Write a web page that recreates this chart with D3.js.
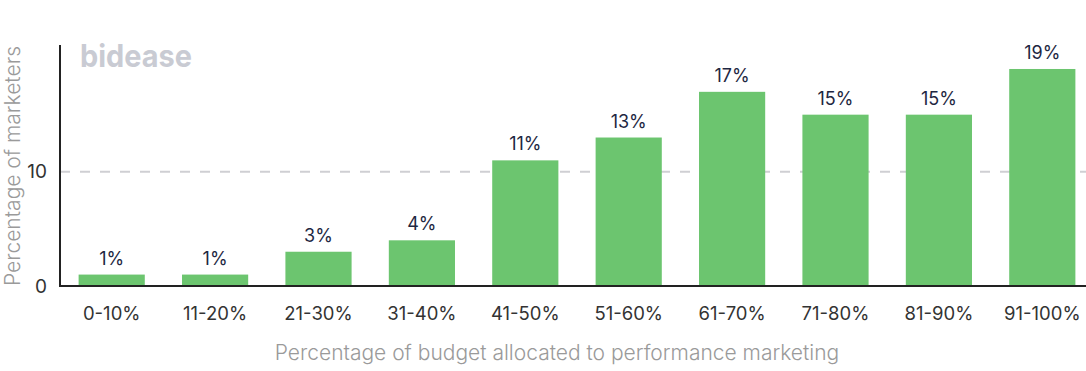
<!DOCTYPE html>
<html><head><meta charset="utf-8">
<script src="https://cdn.jsdelivr.net/npm/d3@7"></script>
<style>
html,body{margin:0;padding:0;background:#fff;}
svg{display:block;font-family:Inter, "Noto Sans", sans-serif;}
</style></head>
<body>
<svg id="chart" width="1086" height="371"></svg>
<script>
const categories = ["0-10%","11-20%","21-30%","31-40%","41-50%","51-60%","61-70%","71-80%","81-90%","91-100%"];
const values = [1,1,3,4,11,13,17,15,15,19];
const yTicks = [0,10];
const xTitle = "Percentage of budget allocated to performance marketing";
const yTitle = "Percentage of marketers";

const svg = d3.select("#chart");
const x = d3.scaleBand().domain(categories).range([60,1094]).paddingInner(0.36).paddingOuter(0.18);
const y = d3.scaleLinear().domain([0,21.1]).range([286,45]);

// gridline
svg.append("g").selectAll("line").data(yTicks.filter(d=>d>0)).join("line")
  .attr("x1",60).attr("x2",1086).attr("y1",d=>y(d)).attr("y2",d=>y(d))
  .attr("stroke","#cfcfd3").attr("stroke-width",2).attr("stroke-dasharray","10,10");

// logo
svg.append("text").attr("x",80).attr("y",67).text("bidease")
  .attr("font-size",31).attr("font-weight",700).attr("fill","#c9cbd3")
  .attr("textLength",112).attr("lengthAdjust","spacingAndGlyphs");

// bars
svg.append("g").selectAll("rect").data(values).join("rect")
  .attr("x",(d,i)=>x(categories[i])).attr("width",x.bandwidth())
  .attr("y",d=>y(d)).attr("height",d=>y(0)-y(d)).attr("fill","#6cc56f");

// value labels
svg.append("g").selectAll("text").data(values).join("text")
  .attr("x",(d,i)=>x(categories[i])+x.bandwidth()/2).attr("y",d=>y(d)-10)
  .attr("text-anchor","middle").attr("font-size",18).attr("fill","#1e2742").text(d=>d+"%");

// axes
const yAxis = svg.append("g").attr("transform","translate(60,0)")
  .call(d3.axisLeft(y).tickValues(yTicks).tickSize(0).tickPadding(13));
yAxis.select(".domain").remove();
yAxis.selectAll("text").attr("font-size",19).attr("fill","#333").attr("font-family","Inter, sans-serif");
svg.append("line").attr("x1",60).attr("x2",60).attr("y1",45).attr("y2",287).attr("stroke","#222").attr("stroke-width",2);

const xAxis = svg.append("g").attr("transform","translate(0,286)")
  .call(d3.axisBottom(x).tickSize(0).tickPadding(21));
xAxis.select(".domain").remove();
xAxis.selectAll("text").attr("font-size",18.5).attr("fill","#333").attr("font-family","Inter, sans-serif");
svg.append("line").attr("x1",59).attr("x2",1086).attr("y1",286).attr("y2",286).attr("stroke","#222").attr("stroke-width",2);

// titles
svg.append("text").attr("x",557).attr("y",360).attr("text-anchor","middle")
  .attr("font-size",21).attr("font-weight",300).attr("fill","#9a9a9a").text(xTitle);
svg.append("text").attr("transform","translate(20,166) rotate(-90)").attr("text-anchor","middle")
  .attr("font-size",21).attr("font-weight",300).attr("fill","#9a9a9a").text(yTitle);
</script>
</body></html>
